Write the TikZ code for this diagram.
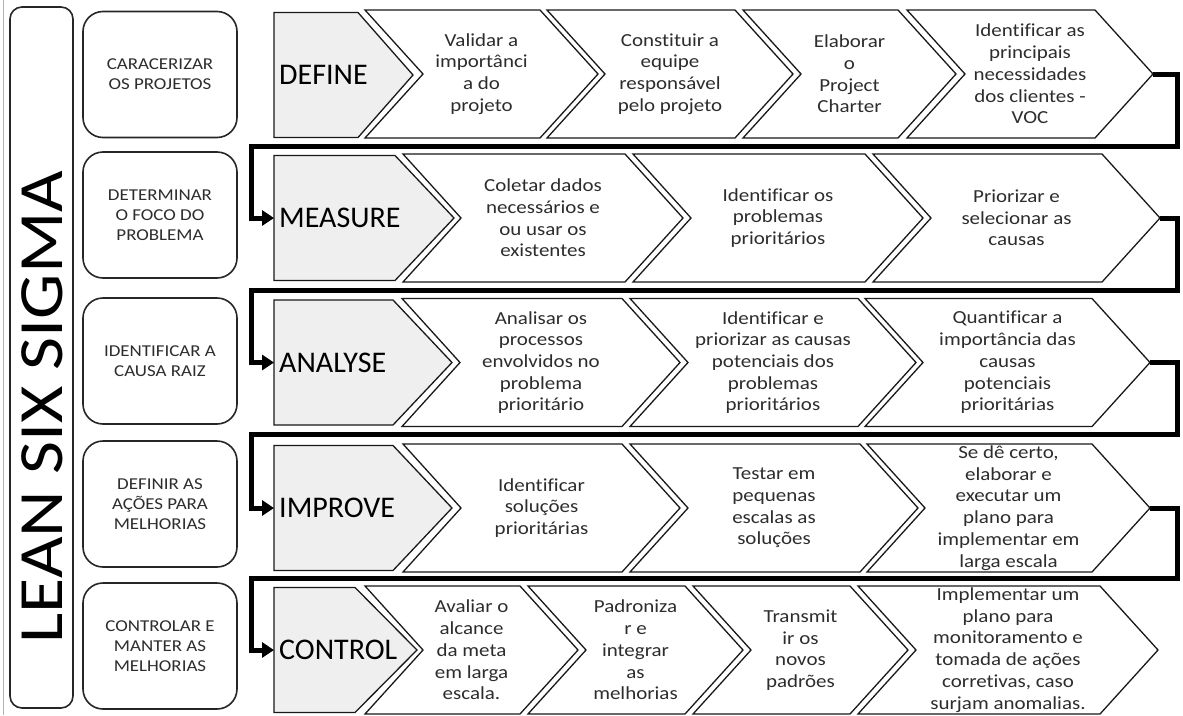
\documentclass[tikz,border=0pt]{standalone}
\usepackage{fontspec}
\setmainfont[Ligatures=NoCommon]{Carlito}
\newfontfamily\wideface[FakeStretch=1.14, Ligatures=NoCommon]{Carlito}
\usetikzlibrary{arrows.meta}

\definecolor{phasefill}{RGB}{239,239,239}
\definecolor{inktext}{RGB}{45,45,45}
\definecolor{edge}{RGB}{25,25,25}

\tikzset{
  chevline/.style={draw=edge, line width=1.3pt, fill=white, line join=miter},
  phaseshape/.style={draw=edge, line width=1.3pt, fill=phasefill, line join=miter},
  steptext/.style={font=\wideface\fontsize{18.4}{21.7}\selectfont, text=inktext,
    align=center, inner sep=0pt},
  phasetext/.style={font=\fontsize{30}{34}\selectfont, text=black,
    anchor=west, inner sep=0pt},
  labelbox/.style={draw=black!85, line width=1.6pt, rounded corners=20pt,
    minimum width=154pt, minimum height=126pt, align=center, inner sep=0pt,
    font=\wideface\fontsize{16.6}{20}\selectfont, text=inktext},
  framebox/.style={draw=black!85, line width=1.6pt, rounded corners=12pt,
    minimum width=63pt, minimum height=701pt, inner sep=0pt},
  flow/.style={line width=5pt, draw=black, line join=miter,
    -{Triangle[length=12pt,width=15pt]}},
}

% chevron step: name, left x, top-right x, centre y, text
\newcommand\stepchevron[5]{%
  \path[chevline] (#2,#4-64) -- (#3,#4-64) -- (#3+58,#4) -- (#3,#4+64)
    -- (#2,#4+64) -- (#2+58,#4) -- cycle;
  \coordinate (#1-tip) at (#3+58,#4);
  \begin{scope}
    \clip (#2,#4-64) -- (#3,#4-64) -- (#3+58,#4) -- (#3,#4+64)
      -- (#2,#4+64) -- (#2+58,#4) -- cycle;
    \node[steptext] (#1) at ({(#2+58+#3)/2},#4) {#5};
  \end{scope}}

% phase pentagon: name, top-right x, point depth, centre y, title
\newcommand\phaseshape[5]{%
  \path[phaseshape] (274,#4-62.5) -- (#2,#4-62.5) -- (#2+#3,#4)
    -- (#2,#4+62.5) -- (274,#4+62.5) -- cycle;
  \coordinate (#1-in) at (274,#4);
  \node[phasetext] (#1) at (279,#4) {#5};}

\begin{document}
\begin{tikzpicture}[x=1pt, y=-1pt]
  \fill[white] (0,0) rectangle (1183,715);
  \useasboundingbox (0,0) rectangle (1183,715);
  \draw[black!30, line width=1pt] (3,0) -- (3,715);

  % left column
  \node[framebox] (frame) at (41.5,357.5) {};
  \node[rotate=90, inner sep=0pt, font=\wideface\fontsize{63}{70}\selectfont]
    (brand) at (42,407) {LEAN SIX SIGMA};

  \node[labelbox] (lab1) at (160,74.5) {CARACERIZAR\\OS PROJETOS};
  \node[labelbox] (lab2) at (160,215) {DETERMINAR\\O FOCO DO\\PROBLEMA};
  \node[labelbox] (lab3) at (160,361) {IDENTIFICAR A\\CAUSA RAIZ};
  \node[labelbox] (lab4) at (160,504) {DEFINIR AS\\AÇÕES PARA\\MELHORIAS};
  \node[labelbox] (lab5) at (160,646) {CONTROLAR E\\MANTER AS\\MELHORIAS};

  % DEFINE
  \phaseshape{define}{358}{55}{75}{DEFINE}
  \stepchevron{validar}{365}{540}{74}{Validar a\\importânci\\a do\\projeto}
  \stepchevron{equipe}{547}{735}{74}{Constituir a\\equipe\\responsável\\pelo projeto}
  \stepchevron{charter}{743}{898}{74}{Elaborar\\o\\Project\\Charter}
  \stepchevron{voc}{907}{1095}{74}{Identificar as\\principais\\necessidades\\dos clientes -\\VOC}

  % MEASURE
  \phaseshape{measure}{395}{59}{218}{MEASURE}
  \stepchevron{coletar}{403}{625}{218}{Coletar dados\\necessários e\\ou usar os\\existentes}
  \stepchevron{problemas}{633}{865}{218}{Identificar os\\problemas\\prioritários}
  \stepchevron{causas}{873}{1102}{218}{Priorizar e\\selecionar as\\causas}

  % ANALYSE
  \phaseshape{analyse}{393}{59}{362.5}{ANALYSE}
  \stepchevron{analisar}{402}{622}{362.5}{Analisar os\\processos\\envolvidos no\\problema\\prioritário}
  \stepchevron{potenciais}{630}{858}{362.5}{Identificar e\\priorizar as causas\\potenciais dos\\problemas\\prioritários}
  \stepchevron{quantificar}{865}{1092}{362.5}{Quantificar a\\importância das\\causas\\potenciais\\prioritárias}

  % IMPROVE
  \phaseshape{improve}{393}{59}{508}{IMPROVE}
  \stepchevron{solucoes}{403}{622}{508}{Identificar\\soluções\\prioritárias}
  \stepchevron{testar}{630}{860}{508}{Testar em\\pequenas\\escalas as\\soluções}
  \stepchevron{larga}{867}{1092}{508}{Se dê certo,\\elaborar e\\executar um\\plano para\\implementar em\\larga escala}

  % CONTROL
  \phaseshape{control}{355}{62}{650}{CONTROL}
  \stepchevron{avaliar}{365}{520}{650}{Avaliar o\\alcance\\da meta\\em larga\\escala.}
  \stepchevron{padronizar}{528}{685}{650}{Padroniza\\r e\\integrar\\as\\melhorias}
  \stepchevron{transmitir}{693}{850}{650}{Transmit\\ir os\\novos\\padrões}
  \stepchevron{monitorar}{858}{1100}{650}{Implementar um\\plano para\\monitoramento e\\tomada de ações\\corretivas, caso\\surjam anomalias.}

  % links from the end of each row to the next phase
  \coordinate (rail) at (1177,0);
  \coordinate (bend1) at (251,146);
  \coordinate (bend2) at (251,290);
  \coordinate (bend3) at (251,434);
  \coordinate (bend4) at (251,578);
  \draw[flow] (voc-tip) -- (voc-tip -| rail) |- (bend1) |- (measure-in);
  \draw[flow] (causas-tip) -- (causas-tip -| rail) |- (bend2) |- (analyse-in);
  \draw[flow] (quantificar-tip) -- (quantificar-tip -| rail) |- (bend3) |- (improve-in);
  \draw[flow] (larga-tip) -- (larga-tip -| rail) |- (bend4) |- (control-in);
\end{tikzpicture}
\end{document}
